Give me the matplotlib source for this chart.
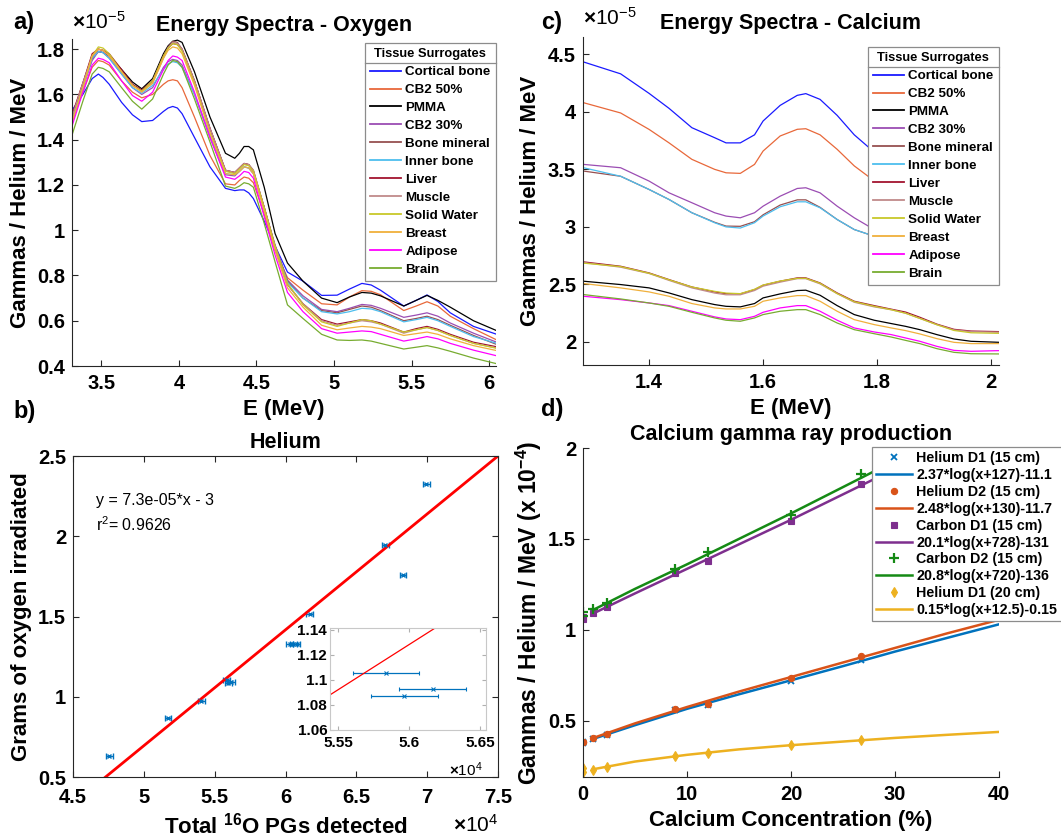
import matplotlib
matplotlib.use('Agg')
import matplotlib.pyplot as plt
from matplotlib.ticker import FuncFormatter, FixedLocator
from matplotlib.lines import Line2D

plt.rcParams['font.family'] = ['Liberation Sans', 'DejaVu Sans']
plt.rcParams['font.weight'] = 'bold'
plt.rcParams['axes.titleweight'] = 'bold'
plt.rcParams['axes.labelweight'] = 'bold'
plt.rcParams['mathtext.fontset'] = 'custom'
plt.rcParams['mathtext.rm'] = 'Liberation Sans'
plt.rcParams['mathtext.bf'] = 'Liberation Sans:bold'

# ---------------- data ----------------
tissues = ['Cortical bone', 'CB2 50%', 'PMMA', 'CB2 30%', 'Bone mineral', 'Inner bone',
           'Liver', 'Muscle', 'Solid Water', 'Breast', 'Adipose', 'Brain']
tissue_colors = ['#1a1aff', '#e8683a', '#000000', '#9b4db3', '#965050', '#4dbeee',
                 '#a2142f', '#c08a8a', '#c8c82a', '#f0b03c', '#ff00ff', '#77ac30']

# Panel a: oxygen spectra (x1e-5 gammas/helium/MeV)
E_a = [3.31, 3.38, 3.44, 3.48, 3.51, 3.55, 3.63, 3.70, 3.76, 3.83, 3.90, 3.93, 3.96, 3.99, 4.02,
       4.10, 4.20, 4.30, 4.36, 4.39, 4.42, 4.45, 4.48, 4.55, 4.62, 4.70, 4.80, 4.92, 5.02, 5.10,
       5.18, 5.24, 5.30, 5.45, 5.53, 5.60, 5.67, 5.75, 5.90, 6.05]
cortical_a = [1.53, 1.60, 1.67, 1.69, 1.675, 1.645, 1.565, 1.51, 1.48, 1.485,
              1.525, 1.54, 1.547, 1.54, 1.515, 1.41, 1.28, 1.185, 1.175, 1.178,
              1.178, 1.165, 1.14, 1.04, 0.93, 0.815, 0.775, 0.712, 0.713, 0.74,
              0.765, 0.758, 0.735, 0.665, 0.69, 0.714, 0.685, 0.635, 0.575, 0.54]
cb50_a = [1.49, 1.61, 1.72, 1.75, 1.745, 1.73, 1.66, 1.61, 1.585, 1.60,
          1.645, 1.66, 1.665, 1.66, 1.63, 1.50, 1.33, 1.205, 1.20, 1.22,
          1.235, 1.23, 1.21, 1.07, 0.91, 0.79, 0.735, 0.675, 0.67, 0.705,
          0.733, 0.73, 0.715, 0.645, 0.665, 0.684, 0.665, 0.62, 0.565, 0.515]
pmma_a = [1.50, 1.64, 1.76, 1.79, 1.785, 1.77, 1.71, 1.655, 1.625, 1.67,
          1.78, 1.815, 1.835, 1.84, 1.83, 1.70, 1.50, 1.34, 1.318, 1.34,
          1.37, 1.37, 1.355, 1.19, 0.985, 0.855, 0.775, 0.70, 0.68, 0.705,
          0.725, 0.722, 0.71, 0.665, 0.69, 0.712, 0.69, 0.66, 0.60, 0.556]
cb30_a = [1.48, 1.63, 1.75, 1.79, 1.785, 1.76, 1.69, 1.63, 1.60, 1.63,
          1.72, 1.745, 1.755, 1.75, 1.73, 1.60, 1.41, 1.245, 1.24, 1.26,
          1.28, 1.275, 1.25, 1.10, 0.935, 0.78, 0.71, 0.65, 0.64, 0.655,
          0.672, 0.668, 0.655, 0.615, 0.625, 0.635, 0.62, 0.59, 0.545, 0.505]
bonemin_a = [1.50, 1.65, 1.77, 1.80, 1.795, 1.77, 1.70, 1.64, 1.615, 1.66,
             1.77, 1.81, 1.835, 1.83, 1.80, 1.66, 1.45, 1.265, 1.255, 1.275,
             1.295, 1.29, 1.265, 1.10, 0.93, 0.775, 0.70, 0.645, 0.635, 0.65,
             0.665, 0.66, 0.645, 0.60, 0.61, 0.62, 0.605, 0.58, 0.535, 0.495]
inner_a = [1.49, 1.63, 1.76, 1.79, 1.785, 1.76, 1.69, 1.63, 1.605, 1.64,
           1.71, 1.735, 1.745, 1.74, 1.72, 1.60, 1.42, 1.25, 1.245, 1.26,
           1.28, 1.275, 1.25, 1.09, 0.925, 0.77, 0.70, 0.64, 0.63, 0.64,
           0.655, 0.652, 0.64, 0.595, 0.605, 0.615, 0.60, 0.575, 0.53, 0.50]
liver_a = [1.51, 1.65, 1.78, 1.80, 1.795, 1.78, 1.71, 1.645, 1.62, 1.66,
           1.77, 1.805, 1.825, 1.82, 1.80, 1.66, 1.45, 1.265, 1.255, 1.275,
           1.295, 1.29, 1.26, 1.10, 0.925, 0.76, 0.675, 0.605, 0.585, 0.595,
           0.605, 0.60, 0.59, 0.55, 0.565, 0.575, 0.562, 0.54, 0.505, 0.485]
muscle_a = [1.50, 1.65, 1.77, 1.80, 1.795, 1.77, 1.70, 1.64, 1.615, 1.65,
            1.76, 1.805, 1.83, 1.825, 1.80, 1.66, 1.45, 1.265, 1.255, 1.275,
            1.295, 1.29, 1.265, 1.10, 0.925, 0.76, 0.675, 0.60, 0.58, 0.59,
            0.60, 0.595, 0.585, 0.545, 0.56, 0.57, 0.557, 0.535, 0.50, 0.48]
water_a = [1.47, 1.63, 1.77, 1.81, 1.805, 1.78, 1.70, 1.64, 1.615, 1.66,
           1.77, 1.805, 1.825, 1.82, 1.79, 1.65, 1.43, 1.26, 1.25, 1.27,
           1.29, 1.285, 1.26, 1.10, 0.93, 0.765, 0.67, 0.595, 0.575, 0.59,
           0.605, 0.60, 0.585, 0.55, 0.56, 0.57, 0.557, 0.535, 0.50, 0.478]
breast_a = [1.48, 1.63, 1.77, 1.80, 1.795, 1.77, 1.70, 1.64, 1.61, 1.65,
            1.76, 1.795, 1.81, 1.805, 1.78, 1.64, 1.43, 1.25, 1.245, 1.26,
            1.28, 1.275, 1.25, 1.085, 0.91, 0.745, 0.66, 0.58, 0.56, 0.568,
            0.575, 0.572, 0.565, 0.535, 0.543, 0.55, 0.54, 0.52, 0.49, 0.468]
adipose_a = [1.46, 1.61, 1.73, 1.76, 1.755, 1.74, 1.66, 1.595, 1.57, 1.61,
             1.71, 1.75, 1.77, 1.765, 1.75, 1.61, 1.41, 1.235, 1.225, 1.24,
             1.26, 1.255, 1.23, 1.06, 0.89, 0.725, 0.64, 0.565, 0.545, 0.55,
             0.555, 0.552, 0.54, 0.51, 0.52, 0.53, 0.52, 0.50, 0.47, 0.445]
brain_a = [1.42, 1.57, 1.69, 1.72, 1.715, 1.70, 1.63, 1.57, 1.535, 1.58,
           1.69, 1.73, 1.75, 1.745, 1.72, 1.58, 1.39, 1.195, 1.185, 1.195,
           1.21, 1.205, 1.19, 1.03, 0.86, 0.67, 0.61, 0.54, 0.515, 0.513,
           0.515, 0.51, 0.50, 0.475, 0.483, 0.49, 0.48, 0.465, 0.435, 0.41]

# Panel c: calcium spectra (x1e-5)
E_c = [1.285, 1.35, 1.40, 1.435, 1.475, 1.515, 1.535, 1.56, 1.585, 1.60, 1.63, 1.66,
       1.675, 1.70, 1.73, 1.76, 1.795, 1.825, 1.85, 1.875, 1.905, 1.935, 1.965, 2.015]
cortical_c = [4.433, 4.33, 4.16, 4.03, 3.862, 3.775, 3.73, 3.73, 3.80, 3.92, 4.056, 4.143,
              4.158, 4.108, 3.969, 3.80, 3.65, 3.55, 3.45, 3.38, 3.30, 3.24, 3.19, 3.14]
cb50_c = [4.079, 3.99, 3.847, 3.73, 3.587, 3.50, 3.47, 3.465, 3.543, 3.659, 3.79, 3.848,
          3.853, 3.80, 3.674, 3.53, 3.40, 3.30, 3.21, 3.14, 3.07, 3.01, 2.97, 2.93]
pmma_c = [2.528, 2.499, 2.47, 2.426, 2.368, 2.325, 2.31, 2.305, 2.334, 2.383, 2.418, 2.447,
          2.45, 2.406, 2.316, 2.238, 2.189, 2.16, 2.136, 2.107, 2.064, 2.026, 2.006, 1.997]
cb30_c = [3.543, 3.514, 3.398, 3.296, 3.21, 3.123, 3.094, 3.079, 3.123, 3.18, 3.267, 3.334,
          3.34, 3.296, 3.18, 3.079, 2.977, 2.90, 2.83, 2.78, 2.73, 2.69, 2.66, 2.63]
bonemin_c = [3.485, 3.44, 3.325, 3.238, 3.123, 3.04, 3.007, 3.005, 3.045, 3.105, 3.19, 3.235,
             3.235, 3.17, 3.064, 2.977, 2.919, 2.86, 2.80, 2.75, 2.71, 2.67, 2.64, 2.61]
inner_c = [3.514, 3.44, 3.325, 3.238, 3.123, 3.036, 3.0, 2.99, 3.036, 3.094, 3.175, 3.218,
           3.218, 3.166, 3.064, 2.977, 2.919, 2.86, 2.80, 2.75, 2.71, 2.67, 2.64, 2.61]
liver_c = [2.696, 2.658, 2.60, 2.542, 2.478, 2.435, 2.42, 2.418, 2.455, 2.493, 2.528, 2.557,
           2.557, 2.513, 2.426, 2.354, 2.316, 2.285, 2.26, 2.215, 2.155, 2.11, 2.095, 2.09]
muscle_c = [2.69, 2.65, 2.595, 2.535, 2.47, 2.425, 2.41, 2.41, 2.447, 2.485, 2.52, 2.55,
            2.55, 2.505, 2.42, 2.345, 2.305, 2.28, 2.25, 2.205, 2.15, 2.105, 2.09, 2.085]
water_c = [2.685, 2.655, 2.597, 2.54, 2.478, 2.44, 2.425, 2.42, 2.458, 2.495, 2.53, 2.553,
           2.553, 2.51, 2.42, 2.35, 2.31, 2.28, 2.25, 2.205, 2.15, 2.10, 2.08, 2.075]
breast_c = [2.508, 2.47, 2.435, 2.397, 2.334, 2.296, 2.287, 2.287, 2.31, 2.354, 2.383, 2.403,
            2.403, 2.354, 2.267, 2.194, 2.151, 2.122, 2.099, 2.07, 2.029, 1.997, 1.986, 1.986]
adipose_c = [2.397, 2.368, 2.339, 2.316, 2.267, 2.218, 2.20, 2.194, 2.223, 2.258, 2.296, 2.316,
             2.316, 2.267, 2.189, 2.122, 2.087, 2.064, 2.035, 2.006, 1.962, 1.927, 1.919, 1.925]
brain_c = [2.412, 2.374, 2.339, 2.31, 2.258, 2.209, 2.189, 2.18, 2.209, 2.238, 2.267, 2.281,
           2.281, 2.238, 2.165, 2.107, 2.072, 2.043, 2.014, 1.986, 1.942, 1.91, 1.898, 1.896]

spectra_a = [cortical_a, cb50_a, pmma_a, cb30_a, bonemin_a, inner_a, liver_a, muscle_a,
             water_a, breast_a, adipose_a, brain_a]
spectra_c = [cortical_c, cb50_c, pmma_c, cb30_c, bonemin_c, inner_c, liver_c, muscle_c,
             water_c, breast_c, adipose_c, brain_c]

# Panel b: helium, total 16O PGs vs grams of oxygen
pg_counts = [47560, 51700, 54050, 55838, 56167, 55967, 60290, 60550, 60800, 61700, 67040, 68290, 69930]
pg_err = [240, 240, 240, 235, 235, 235, 240, 240, 240, 240, 240, 240, 240]
oxygen_g = [0.633, 0.870, 0.972, 1.1057, 1.0925, 1.0871, 1.33, 1.33, 1.33, 1.516, 1.948, 1.761, 2.324]
fit_b_x = [45000, 75000]
fit_b_y = [0.334, 2.500]

# Panel d: calcium gamma ray production (x1e-4)
ca_conc = [0, 0, 1, 2.3, 8.8, 12, 20, 26.7]
he_d1_15 = [0.38, 0.375, 0.40, 0.423, 0.557, 0.584, 0.716, 0.835]
he_d2_15 = [0.385, 0.38, 0.405, 0.428, 0.565, 0.593, 0.732, 0.857]
c_d1_15 = [1.068, 1.06, 1.095, 1.125, 1.311, 1.379, 1.60, 1.80]
c_d2_15 = [1.097, 1.077, 1.114, 1.147, 1.335, 1.427, 1.632, 1.855]
he_d1_20 = [0.24, 0.215, 0.231, 0.246, 0.304, 0.322, 0.366, 0.392]
fit_x = [1, 5, 10, 15, 20, 25, 30, 35, 40]
fit_he_d1_15 = [0.40, 0.475, 0.565, 0.645, 0.722, 0.80, 0.88, 0.955, 1.03]
fit_he_d2_15 = [0.405, 0.485, 0.575, 0.66, 0.74, 0.82, 0.90, 0.98, 1.055]
fit_c_d1_15 = [1.09, 1.20, 1.335, 1.47, 1.605, 1.745, 1.885, 2.02, 2.16]
fit_c_d2_15 = [1.11, 1.225, 1.36, 1.50, 1.64, 1.785, 1.93, 2.07, 2.21]
fit_he_d1_20 = [0.233, 0.275, 0.312, 0.342, 0.365, 0.385, 0.405, 0.422, 0.438]
d_data_labels = ['Helium D1 (15 cm)', 'Helium D2 (15 cm)', 'Carbon D1 (15 cm)',
                 'Carbon D2 (15 cm)', 'Helium D1 (20 cm)']
d_fit_labels = ['2.37*log(x+127)-11.1', '2.48*log(x+130)-11.7', '20.1*log(x+728)-131',
                '20.8*log(x+720)-136', '0.15*log(x+12.5)-0.15']

# ---------------- figure ----------------
W, H = 1061, 838
fig = plt.figure(figsize=(W / 100, H / 100), dpi=100)


def rect(l, t, r, b):
    return [l / W, 1 - b / H, (r - l) / W, (b - t) / H]


AXC = '#262626'
fmt = FuncFormatter(lambda v, p: '%g' % round(v, 6))


def style(ax, box=False, labelsize=14.5, length=4):
    ax.tick_params(direction='in', length=length, width=0.8, labelsize=labelsize,
                   color=AXC, labelcolor='black', top=box, right=box)
    ax.tick_params(axis='x', pad=6)
    ax.tick_params(axis='y', pad=5)
    for s in ['left', 'bottom', 'top', 'right']:
        ax.spines[s].set_color(AXC)
        ax.spines[s].set_linewidth(0.8)
    if not box:
        ax.spines['top'].set_visible(False)
        ax.spines['right'].set_visible(False)
    ax.xaxis.set_major_formatter(fmt)
    ax.yaxis.set_major_formatter(fmt)


axA = fig.add_axes(rect(72, 39, 496, 366))
axC = fig.add_axes(rect(583, 37, 999, 365))
axB = fig.add_axes(rect(73, 456, 498, 777))
axD = fig.add_axes(rect(583, 448, 999, 777))

# ---- panel a ----
for vals, name, col in zip(spectra_a, tissues, tissue_colors):
    axA.plot(E_a, vals, color=col, lw=0.9, label=name)
axA.set_xlim(3.31, 6.045)
axA.set_ylim(0.4, 1.845)
axA.xaxis.set_major_locator(FixedLocator([3.5, 4, 4.5, 5, 5.5, 6]))
axA.yaxis.set_major_locator(FixedLocator([0.4, 0.6, 0.8, 1.0, 1.2, 1.4, 1.6, 1.8]))
style(axA)
axA.set_xlabel('E (MeV)', fontsize=16, labelpad=4)
axA.set_ylabel('Gammas / Helium / MeV', fontsize=16, labelpad=4)
axA.set_title('Energy Spectra - Oxygen', fontsize=15.5, pad=6)
axA.text(0.0, 1.02, r'$\times\mathregular{10^{-5}}$', transform=axA.transAxes,
         fontsize=15, fontweight='normal', ha='left', va='bottom')

# ---- panel c ----
for vals, name, col in zip(spectra_c, tissues, tissue_colors):
    axC.plot(E_c, vals, color=col, lw=0.9, label=name)
axC.set_xlim(1.284, 2.014)
axC.set_ylim(1.80, 4.65)
axC.xaxis.set_major_locator(FixedLocator([1.4, 1.6, 1.8, 2.0]))
axC.yaxis.set_major_locator(FixedLocator([2, 2.5, 3, 3.5, 4, 4.5]))
style(axC)
axC.set_xlabel('E (MeV)', fontsize=16, labelpad=4)
axC.set_ylabel('Gammas / Helium / MeV', fontsize=16, labelpad=5)
axC.set_title('Energy Spectra - Calcium', fontsize=15.5, pad=6)
axC.text(0.0, 1.025, r'$\times\mathregular{10^{-5}}$', transform=axC.transAxes,
         fontsize=15, fontweight='normal', ha='left', va='bottom')

legs = []
for ax, top_px, axtop, axh in [(axA, 43, 39, 327), (axC, 47, 37, 328)]:
    lg = ax.legend(loc='upper right', bbox_to_anchor=(1.0, 1 - (top_px - axtop) / axh),
                   prop={'weight': 'bold', 'size': 9.6}, title='Tissue Surrogates',
                   title_fontproperties={'weight': 'bold', 'size': 9.3},
                   frameon=True, fancybox=False, edgecolor='#8c8c8c', framealpha=1,
                   borderaxespad=0, handlelength=2.3, handletextpad=0.35,
                   labelspacing=0.42, borderpad=0.4)
    lg.get_frame().set_linewidth(0.9)
    for l in lg.get_lines():
        l.set_linewidth(1.3)
    legs.append(lg)

# ---- panel b ----
axB.errorbar(pg_counts, oxygen_g, xerr=pg_err, fmt='x', ms=3, mew=1, color='#0072bd',
             ecolor='#0072bd', elinewidth=1, capsize=2, lw=0)
axB.plot(fit_b_x, fit_b_y, color='#ff0000', lw=2)
axB.set_xlim(45000, 75000)
axB.set_ylim(0.5, 2.5)
axB.xaxis.set_major_locator(FixedLocator([45000, 50000, 55000, 60000, 65000, 70000, 75000]))
axB.yaxis.set_major_locator(FixedLocator([0.5, 1, 1.5, 2, 2.5]))
style(axB, box=True)
axB.tick_params(axis='x', pad=8)
axB.xaxis.set_major_formatter(FuncFormatter(lambda v, p: '%g' % round(v / 1e4, 6)))
axB.set_title('Helium', fontsize=15.5, pad=6)
axB.set_ylabel('Grams of oxygen irradiated', fontsize=16, labelpad=4)
axB.set_xlabel(r'Total $\mathbf{^{16}}$O PGs detected', fontsize=16, labelpad=4)
axB.text(1.0, -0.115, r'$\times\mathregular{10^{4}}$', transform=axB.transAxes,
         fontsize=15, fontweight='normal', ha='right', va='top')
axB.text(0.055, 0.86, 'y = 7.3e-05*x - 3', transform=axB.transAxes, fontsize=11.5,
         fontweight='normal', ha='left', va='center')
axB.text(0.055, 0.785, r'r$\mathregular{^2}$= 0.9626', transform=axB.transAxes, fontsize=11.5,
         fontweight='normal', ha='left', va='center')

# inset
axI = fig.add_axes(rect(330, 628, 486, 730))
axI.errorbar(pg_counts, oxygen_g, xerr=pg_err, fmt='x', ms=2.5, mew=0.8, color='#0072bd',
             ecolor='#0072bd', elinewidth=0.9, capsize=1.5, lw=0)
axI.plot(fit_b_x, fit_b_y, color='#ff0000', lw=0.9)
axI.set_xlim(55444, 56542)
axI.set_ylim(1.06, 1.1415)
axI.xaxis.set_major_locator(FixedLocator([55500, 56000, 56500]))
axI.yaxis.set_major_locator(FixedLocator([1.06, 1.08, 1.10, 1.12, 1.14]))
style(axI, box=True, labelsize=11, length=3)
for s in axI.spines.values():
    s.set_color('#c8c8c8')
axI.tick_params(color='#b0b0b0')
axI.tick_params(axis='x', pad=4)
axI.tick_params(axis='y', pad=2)
axI.xaxis.set_major_formatter(FuncFormatter(lambda v, p: '%g' % round(v / 1e4, 6)))
axI.text(0.98, -0.3, r'$\times\mathregular{10^{4}}$', transform=axI.transAxes,
         fontsize=11, fontweight='normal', ha='right', va='top')

# ---- panel d ----
d_cols = ['#0072bd', '#d95319', '#7e2f8e', '#158a15', '#edb120']
d_marks = [dict(marker='x', ms=5, mew=1.3), dict(marker='o', ms=4.5, mew=0.8),
           dict(marker='s', ms=4, mew=0.8), dict(marker='+', ms=7, mew=1.6),
           dict(marker='d', ms=5, mew=0.8)]
d_data = [he_d1_15, he_d2_15, c_d1_15, c_d2_15, he_d1_20]
d_fits = [fit_he_d1_15, fit_he_d2_15, fit_c_d1_15, fit_c_d2_15, fit_he_d1_20]
handles, labels = [], []
for vals, fit, col, mk, dl, fl in zip(d_data, d_fits, d_cols, d_marks, d_data_labels, d_fit_labels):
    h1, = axD.plot(ca_conc, vals, ls='none', color=col, mfc=col, mec=col, **mk)
    h2, = axD.plot(fit_x, fit, color=col, lw=1.8)
    handles += [h1, h2]
    labels += [dl, fl]
axD.set_xlim(0, 40)
axD.set_ylim(0.19, 2.0)
axD.xaxis.set_major_locator(FixedLocator([0, 10, 20, 30, 40]))
axD.yaxis.set_major_locator(FixedLocator([0.5, 1, 1.5, 2]))
style(axD)
axD.set_title('Calcium gamma ray production', fontsize=15.5, pad=6)
axD.set_xlabel('Calcium Concentration (%)', fontsize=16, labelpad=4)
axD.set_ylabel(r'Gammas / Helium / MeV (x 10$\mathbf{^{-4}}$)', fontsize=16.5, labelpad=3)
lgD = axD.legend(handles, labels, loc='upper left', bbox_to_anchor=(872 / W, 1 - 447 / H),
                 bbox_transform=fig.transFigure, prop={'weight': 'bold', 'size': 10.3},
                 frameon=True, fancybox=False,
                 edgecolor='#8c8c8c', framealpha=1, borderaxespad=0, handlelength=2.5,
                 handletextpad=0.3, labelspacing=0.2, borderpad=0.3)
lgD.get_frame().set_linewidth(0.9)

# panel letters
for txt, x, y in [('a)', 13, 23), ('b)', 13, 411), ('c)', 541, 22), ('d)', 541, 409)]:
    fig.text(x / W, 1 - y / H, txt, fontsize=17, fontweight='bold', ha='left', va='center')

# separator line under the legend titles (MATLAB style title box)
fig.canvas.draw()
for lg in legs:
    fb = lg.get_frame().get_window_extent()
    tb = lg.get_title().get_window_extent()
    ysep = tb.y0 - 3
    fig.add_artist(Line2D([fb.x0 / W, fb.x1 / W], [ysep / H, ysep / H],
                          transform=fig.transFigure, color='#8c8c8c', lw=0.9))

# bold tick labels (MATLAB style), applied after layout so the tick texts exist
for ax in [axA, axB, axC, axD, axI]:
    for t in ax.get_xticklabels() + ax.get_yticklabels():
        t.set_fontweight('bold')

fig.savefig('out.png', dpi=100)
